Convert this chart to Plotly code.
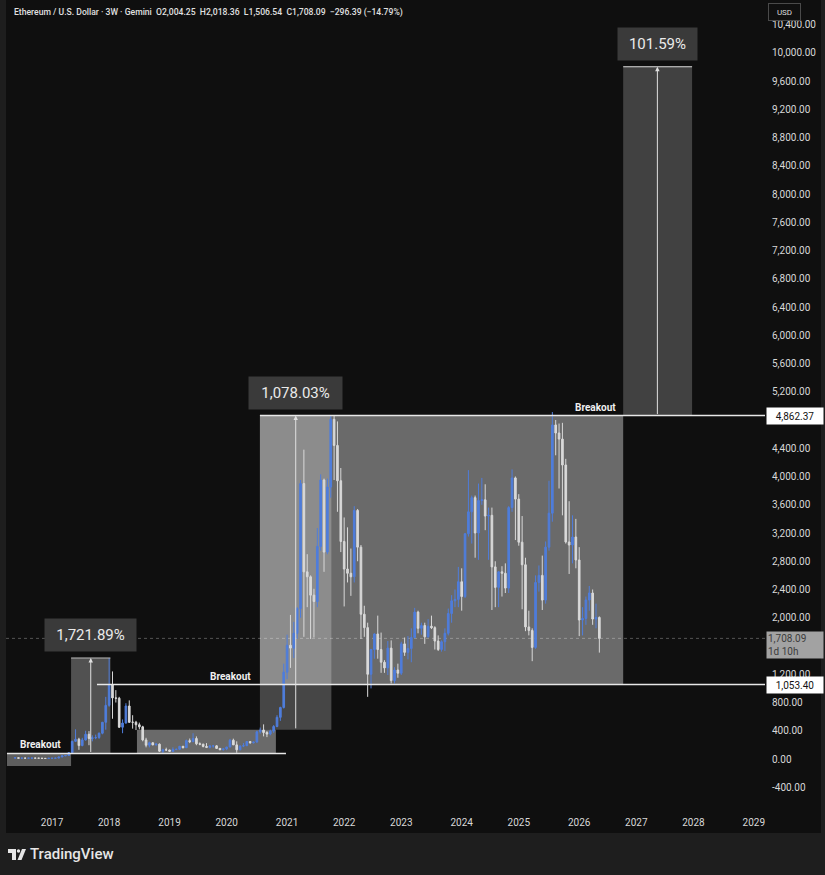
import pandas as pd
import plotly.graph_objects as go

# ---------------- data (3-week ETH/USD candles) ----------------
bar_start = "2016-05-23"

opens = [
    12.9, 17.5, 11.0, 12.9, 11.3, 11.8, 13.0, 11.9, 10.9, 8.5, 7.6,
    10.3, 10.7, 12.5, 28, 45, 50, 90, 250, 280, 190, 270, 350, 290, 300, 305, 365, 520,
    760, 1050, 865, 860, 450, 510, 750, 520, 520, 485, 455, 270, 195, 230, 200, 210, 110, 130,
    128, 108, 135, 138, 180, 160, 260, 245, 290, 215, 210, 178, 165, 185, 186, 150, 132,
    143, 170, 265, 200, 130, 183, 188, 248, 230, 240, 385, 410, 375, 353, 395, 460, 590, 730,
    1230, 1610, 1570, 1780, 2130, 3900, 2650, 2580, 2320, 2230, 3010, 3950, 2930, 3850, 4810, 4440, 3940,
    3080, 2690, 2630, 2580, 3520, 3000, 2050, 1860, 1200, 1550, 1770, 1550, 1370, 1290, 1570, 1110, 1260,
    1215, 1630, 1510, 1565, 1720, 2080, 1850, 1890, 1730, 1880, 1860, 1670, 1550, 1660, 1780, 2060, 2240, 2260,
    2510, 2300, 3190, 3500, 3700, 3200, 3660, 3670, 3440, 3450, 2720, 2430, 2650, 2630, 2420, 3560, 3980,
    3680, 3070, 2750, 1870, 1820, 1580, 2500, 2600, 2250, 3000, 3480, 4730, 4616, 4530, 4163, 3073, 3030,
    3143, 2818, 1968, 1990, 2251, 2350, 1982, 2004.25,
]
highs = [
    18.5, 21.5, 14.5, 13.0, 12.3, 13.4, 13.5, 12.3, 11.3, 8.7, 10.8,
    11.5, 13.1, 29, 53, 52, 95, 260, 420, 300, 300, 400, 395, 335, 345, 375, 525, 880,
    1430, 1240, 975, 880, 560, 790, 830, 620, 540, 515, 470, 300, 245, 235, 225, 220, 145, 160,
    130, 165, 145, 185, 185, 275, 290, 365, 320, 235, 215, 225, 200, 198, 195, 155, 145,
    172, 285, 288, 250, 194, 226, 250, 250, 245, 400, 445, 490, 395, 415, 480, 620, 740, 1350,
    1760, 2040, 1940, 2150, 3950, 4380, 2900, 2600, 2410, 3270, 4030, 3970, 3970, 4870, 4860, 4780, 4120,
    3420, 3280, 2980, 3580, 3540, 3030, 2170, 1930, 1560, 1780, 2030, 1790, 1400, 1670, 1680, 1300, 1350,
    1660, 1720, 1740, 1850, 2140, 2100, 1930, 1930, 1980, 2030, 1880, 1750, 1680, 1850, 2130, 2320, 2400, 2720,
    2700, 3200, 4090, 3730, 3730, 3900, 3980, 3890, 3560, 3560, 2800, 2660, 2730, 2770, 3580, 4100, 4000,
    3750, 3440, 2850, 2100, 1850, 2600, 2740, 2880, 3080, 3940, 4913, 4800, 4750, 4760, 4250, 3650, 3450,
    3400, 3000, 2150, 2300, 2450, 2400, 2200, 2018.36,
]
lows = [
    11.8, 10.5, 10.3, 10.3, 10.3, 11.5, 11.5, 10.4, 8.0, 6.9, 7.2,
    9.6, 10.5, 12.3, 27, 40, 47, 86, 240, 130, 180, 260, 195, 250, 280, 285, 350, 415,
    740, 570, 800, 440, 365, 500, 510, 430, 410, 420, 250, 165, 165, 195, 190, 100, 82, 115,
    102, 102, 125, 132, 150, 155, 225, 240, 195, 195, 165, 155, 150, 160, 145, 123, 118,
    125, 165, 200, 88, 125, 168, 185, 216, 220, 230, 360, 320, 310, 335, 370, 450, 540, 715,
    1130, 1290, 1430, 1700, 2000, 1730, 2150, 1700, 1720, 2150, 2950, 2650, 2900, 3700, 3950, 3500, 2930,
    2160, 2500, 2310, 2500, 2800, 1700, 1730, 880, 1000, 1420, 1420, 1220, 1220, 1190, 1070, 1070, 1150,
    1190, 1460, 1410, 1370, 1710, 1780, 1760, 1630, 1720, 1840, 1550, 1530, 1520, 1530, 1750, 1930, 2150, 2150,
    2100, 2280, 3150, 3050, 2850, 2820, 3600, 3240, 2820, 2110, 2150, 2150, 2300, 2350, 2350, 3500, 3100,
    3020, 2120, 1810, 1750, 1385, 1560, 2370, 2110, 2200, 2950, 3360, 4300, 3830, 3450, 3050, 2620, 2770,
    2700, 1740, 1750, 1900, 2100, 1900, 1850, 1506.54,
]
closes = [
    17.5, 11.0, 12.9, 11.3, 11.8, 13.0, 11.9, 10.9, 8.5, 7.6, 10.3,
    10.7, 12.5, 28, 45, 50, 90, 250, 280, 190, 270, 350, 290, 300, 305, 365, 520, 760,
    1050, 865, 860, 450, 510, 750, 520, 520, 485, 455, 270, 195, 230, 200, 210, 110, 130, 128,
    108, 135, 138, 180, 160, 260, 245, 290, 215, 210, 178, 165, 185, 186, 150, 132, 143,
    170, 265, 200, 130, 183, 188, 248, 230, 240, 385, 410, 375, 353, 395, 460, 590, 730, 1230,
    1610, 1570, 1780, 2130, 3900, 2650, 2580, 2320, 2230, 3010, 3950, 2930, 3850, 4810, 4440, 3940, 3080,
    2690, 2630, 2580, 3520, 3000, 2050, 1860, 1200, 1550, 1770, 1550, 1370, 1290, 1570, 1110, 1260, 1215,
    1630, 1510, 1565, 1720, 2080, 1850, 1890, 1730, 1880, 1860, 1670, 1550, 1660, 1780, 2060, 2240, 2260, 2510,
    2300, 3190, 3500, 3700, 3200, 3660, 3670, 3440, 3450, 2720, 2430, 2650, 2630, 2420, 3560, 3980, 3680,
    3070, 2750, 1870, 1820, 1580, 2500, 2600, 2250, 3000, 3480, 4730, 4616, 4530, 4163, 3073, 3030, 3143,
    2818, 1968, 1990, 2251, 2350, 1982, 2004.25, 1708.09,
]

year_labels = [str(y) for y in range(2017, 2030)]
# price-scale labels visible in the chart (4,800 and 1,600 are covered by price tags)
price_ticks = [v for v in range(-400, 10401, 400) if v not in (4800, 1600)]

# drawing levels (from the chart's annotations)
breakout_levels = [78.5, 1053.40, 4862.37]
measure_pcts = [1721.89, 1078.03, 101.59]
measure_bases = [78.5, 412.76, 4862.37]
measure_tops = [b * (1 + p / 100) for b, p in zip(measure_bases, measure_pcts)]
last_price = 1708.09
range_box1 = (-100, 78.5)
range_box2 = (78.5, 412.76)

# ---------------- figure ----------------
BLUE = "#4f7ddb"
WHITE = "#d9d9d9"
BG = "#0f0f0f"
W, H = 825, 875
PL, PR, PT, PB = 6, 765, 0, 808


def fx(px):
    return (px - PL) / (PR - PL)


def fy(py):
    return 1 - (py - PT) / (PB - PT)


dates = pd.date_range(bar_start, periods=len(closes), freq="21D")
ext = pd.date_range(bar_start, "2029-12-31", freq="21D")
tickvals = [ext[ext.year == int(y)][0] for y in year_labels]

fig = go.Figure()
fig.add_trace(go.Candlestick(
    x=dates, open=opens, high=highs, low=lows, close=closes,
    increasing=dict(line=dict(color=BLUE, width=1), fillcolor=BLUE),
    decreasing=dict(line=dict(color=WHITE, width=1), fillcolor=WHITE),
    whiskerwidth=0, hoverinfo="skip",
))

X_START, X_END = "2016-03-27", "2029-03-26"
shapes = []
# panel background (outside plot area)
shapes.append(dict(type="rect", xref="paper", yref="paper", x0=fx(6), x1=fx(821), y0=fy(0), y1=fy(833),
                   fillcolor=BG, line=dict(width=0), layer="below"))


def box(x0, x1, y0, y1, a):
    shapes.append(dict(type="rect", xref="x", yref="y", x0=x0, x1=x1, y0=y0, y1=y1,
                       fillcolor=f"rgba(255,255,255,{a})", line=dict(width=0), layer="below"))


box("2016-04-02", "2017-05-08", range_box1[0], range_box1[1], 0.33)
box("2017-05-08", "2018-01-09", measure_bases[0], measure_tops[0], 0.28)
box("2018-06-24", "2020-11-09", range_box2[0], range_box2[1], 0.38)
box("2020-08-01", "2021-10-22", measure_bases[1], measure_tops[1], 0.23)
box("2020-08-01", "2026-10-21", breakout_levels[1], breakout_levels[2], 0.38)
box("2026-10-21", "2027-12-26", measure_bases[2], measure_tops[2], 0.21)

# current price dotted line
shapes.append(dict(type="line", xref="paper", yref="y", x0=0, x1=1, y0=last_price, y1=last_price,
                   line=dict(color="#555555", width=1, dash="dot"), layer="below"))


def hline(x0, x1, y, w=1.5, c="#e8e8e8"):
    shapes.append(dict(type="line", xref="x", yref="y", x0=x0, x1=x1, y0=y, y1=y,
                       line=dict(color=c, width=w), layer="above"))


hline("2016-04-02", "2021-01-11", breakout_levels[0])
hline("2017-10-17", X_END, breakout_levels[1])
hline("2020-08-01", X_END, breakout_levels[2])
hline("2017-05-08", "2018-01-09", measure_tops[0], 1, "#bbbbbb")
hline("2026-10-21", "2027-12-26", measure_tops[2], 1.2, "#dddddd")

# TradingView logo glyph
shapes.append(dict(type="rect", xref="paper", yref="paper", x0=fx(8), x1=fx(16), y0=fy(853), y1=fy(849),
                   fillcolor="#e6e6e6", line=dict(width=0)))
shapes.append(dict(type="rect", xref="paper", yref="paper", x0=fx(12), x1=fx(16), y0=fy(860), y1=fy(849),
                   fillcolor="#e6e6e6", line=dict(width=0)))
shapes.append(dict(type="circle", xref="paper", yref="paper", x0=fx(16.8), x1=fx(20.2), y0=fy(852.7),
                   y1=fy(849.3), fillcolor="#e6e6e6", line=dict(width=0)))
shapes.append(dict(type="path", xref="paper", yref="paper",
                   path=f"M {fx(22)} {fy(849)} L {fx(26)} {fy(849)} L {fx(21.5)} {fy(860)} L {fx(17.5)} {fy(860)} Z",
                   fillcolor="#e6e6e6", line=dict(width=0)))

ann = []
# header
ann.append(dict(xref="paper", yref="paper", x=fx(12), y=fy(12), xanchor="left", yanchor="middle",
                text="Ethereum / U.S. Dollar · 3W · Gemini  O2,004.25  H2,018.36  L1,506.54  C1,708.09  −296.39 (−14.79%)",
                showarrow=False, font=dict(family="Roboto", size=8.6, color="#e0e0e0", weight=500)))

# breakout labels
for xd, lvl, anchor in [("2016-06-10", breakout_levels[0], "left"),
                        ("2020-06-18", breakout_levels[1], "right"),
                        ("2026-09-20", breakout_levels[2], "right")]:
    ann.append(dict(xref="x", yref="y", x=xd, y=lvl, xanchor=anchor, yanchor="bottom", yshift=1,
                    text="<b>Breakout</b>", showarrow=False,
                    font=dict(family="Roboto", size=10, color="#f0f0f0")))

# measure arrows and percent labels
centers = ["2017-09-08", "2021-03-13", "2027-05-23"]
widths = [89, 91, 77]
for c, b, t, p, w in zip(centers, measure_bases, measure_tops, measure_pcts, widths):
    ann.append(dict(xref="x", yref="y", x=c, y=t, ax=c, ay=b, axref="x", ayref="y", text="",
                    showarrow=True, arrowhead=2, arrowsize=0.9, arrowwidth=1, arrowcolor="#e0e0e0"))
    ann.append(dict(xref="x", yref="y", x=c, y=t, xanchor="center", yanchor="bottom", yshift=6,
                    text=f"{p:,.2f}%", showarrow=False, width=w, height=30, borderpad=1,
                    bgcolor="#3a3a3a", font=dict(family="Roboto", size=15, color="#eaeaea")))

# price axis labels
for lvl in [breakout_levels[2], breakout_levels[1]]:
    ann.append(dict(xref="paper", yref="y", x=1, y=lvl, xanchor="left", yanchor="middle", xshift=1,
                    text=f"{lvl:,.2f}", showarrow=False, width=54, height=14, borderpad=1,
                    bgcolor="#ffffff", font=dict(family="Roboto", size=10, color="#131313")))
ann.append(dict(xref="paper", yref="y", x=1, y=last_price, xanchor="left", yanchor="top", xshift=1, yshift=7,
                text=f"{last_price:,.2f}<br>1d 10h", showarrow=False, width=54, height=24, borderpad=1,
                align="left", bgcolor="#a2a2a2", font=dict(family="Roboto", size=10, color="#3c3c3c")))
# currency box
ann.append(dict(xref="paper", yref="paper", x=fx(784), y=fy(12.5), xanchor="center", yanchor="middle",
                text="USD", showarrow=False, width=29, height=14, borderpad=1, bgcolor=BG,
                bordercolor="#4a4a4a", borderwidth=1, font=dict(family="Roboto", size=8, color="#dddddd")))
# TradingView wordmark
ann.append(dict(xref="paper", yref="paper", x=fx(28), y=fy(854), xanchor="left", yanchor="middle",
                text="TradingView", showarrow=False,
                font=dict(family="Roboto", size=15, color="#e6e6e6", weight=500)))

fig.update_layout(
    width=W, height=H,
    margin=dict(l=PL, r=W - PR, t=PT, b=H - PB),
    paper_bgcolor="#1e1e1e", plot_bgcolor=BG,
    showlegend=False, shapes=shapes, annotations=ann,
    xaxis=dict(type="date", range=[X_START, X_END], tickvals=tickvals, ticktext=year_labels,
               showgrid=False, zeroline=False, showline=False, ticks="", ticklabelstandoff=7,
               tickfont=dict(family="Roboto", size=10, color="#d8d8d8"), rangeslider=dict(visible=False),
               fixedrange=True),
    yaxis=dict(side="right", range=[-693.8, 10746.9], tickvals=price_ticks,
               ticktext=[f"{v:,.2f}" for v in price_ticks], showgrid=False, zeroline=False,
               showline=False, ticks="", ticklabelstandoff=6,
               tickfont=dict(family="Roboto", size=10, color="#d8d8d8"), fixedrange=True),
)

fig.write_html("out.html", config={"displayModeBar": False},
               post_script="document.body.style.margin='0';document.body.style.background='#1e1e1e';")
